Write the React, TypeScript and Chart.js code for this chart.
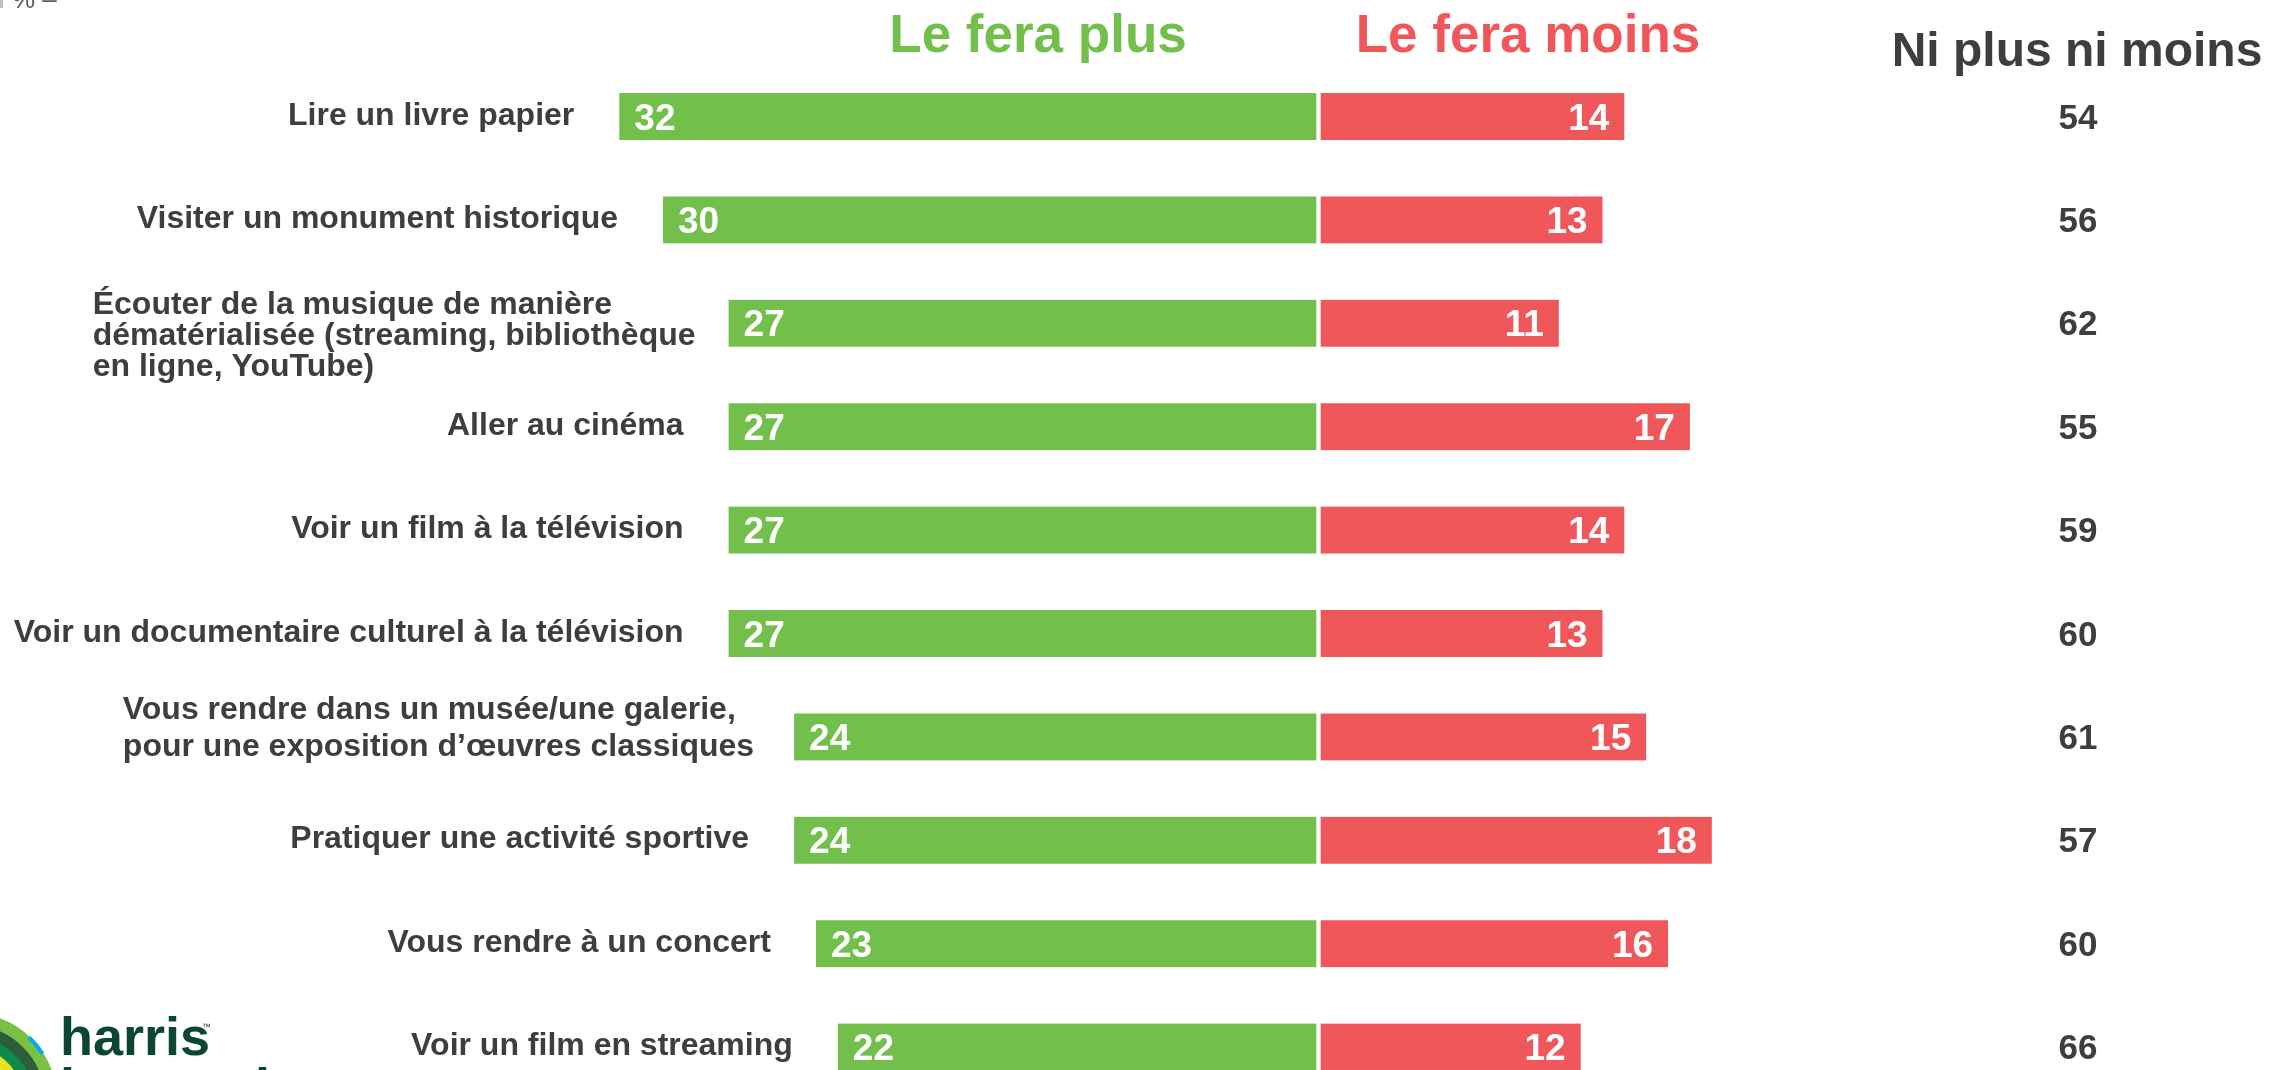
import React, { useEffect, useRef } from "react";
import { Chart, registerables } from "chart.js";

Chart.register(...registerables);

const CATEGORIES: string[][] = [
  ["Lire un livre papier"],
  ["Visiter un monument historique"],
  ["Écouter de la musique de manière", "dématérialisée (streaming, bibliothèque", "en ligne, YouTube)"],
  ["Aller au cinéma"],
  ["Voir un film à la télévision"],
  ["Voir un documentaire culturel à la télévision"],
  ["Vous rendre dans un musée/une galerie,", "pour une exposition d’œuvres classiques"],
  ["Pratiquer une activité sportive"],
  ["Vous rendre à un concert"],
  ["Voir un film en streaming"],
];
const PLUS: number[] = [32, 30, 27, 27, 27, 27, 24, 24, 23, 22];
const MOINS: number[] = [14, 13, 11, 17, 14, 13, 15, 18, 16, 12];
const NEUTRE: number[] = [54, 56, 62, 55, 59, 60, 61, 57, 60, 66];
const HEADER_PLUS = "Le fera plus";
const HEADER_MOINS = "Le fera moins";
const HEADER_NEUTRE = "Ni plus ni moins";

const GREEN = "#72BF4B";
const RED = "#F0575A";
const DARK = "#3E3E3E";
const FONT = "'Liberation Sans', Arial, sans-serif";

const W = 2290;
const H = 1110;

const overlayPlugin = {
  id: "overlay",
  afterDatasetsDraw(chart: any) {
    const ctx = chart.ctx as CanvasRenderingContext2D;
    const xs = chart.scales.x;
    const ys = chart.scales.y;
    ctx.save();

    // headers
    ctx.textAlign = "center";
    ctx.textBaseline = "alphabetic";
    ctx.font = `bold 53px ${FONT}`;
    ctx.fillStyle = GREEN;
    ctx.fillText(HEADER_PLUS, 1038, 52);
    ctx.fillStyle = RED;
    ctx.fillText(HEADER_MOINS, 1528, 52);
    ctx.font = `bold 48px ${FONT}`;
    ctx.fillStyle = DARK;
    ctx.fillText(HEADER_NEUTRE, 2077, 66);

    // top-left fragment
    ctx.textAlign = "left";
    ctx.font = `26px ${FONT}`;
    ctx.fillStyle = "#595959";
    ctx.fillText("% –", 12, 8);
    ctx.fillStyle = "#BFBFBF";
    ctx.fillRect(0, 0, 3, 8);

    for (let i = 0; i < CATEGORIES.length; i++) {
      const yc = ys.getPixelForValue(i);
      const x0 = xs.getPixelForValue(-PLUS[i]);
      const x1 = xs.getPixelForValue(MOINS[i]);

      // values in bars
      ctx.font = `bold 37px ${FONT}`;
      ctx.fillStyle = "#FFFFFF";
      ctx.textAlign = "left";
      ctx.fillText(String(PLUS[i]), x0 + 15, yc + 13);
      ctx.textAlign = "right";
      ctx.fillText(String(MOINS[i]), x1 - 15, yc + 13);

      // neutral values
      ctx.font = `bold 35px ${FONT}`;
      ctx.fillStyle = DARK;
      ctx.textAlign = "center";
      ctx.fillText(String(NEUTRE[i]), 2078, yc + 12);

      // category labels
      ctx.font = `bold 32px ${FONT}`;
      const lines = CATEGORIES[i];
      const widths = lines.map((l) => ctx.measureText(l).width);
      const maxW = Math.max(...widths);
      const gap = lines.length > 2 ? 33 : lines.length > 1 ? 40 : 45;
      const left = x0 - gap - maxW;
      const lh = lines.length > 2 ? 31 : 37;
      const shift = lines.length > 2 ? 14 : lines.length > 1 ? -7 : 0;
      const startY = yc - ((lines.length - 1) * lh) / 2 + shift;
      ctx.textAlign = "left";
      for (let k = 0; k < lines.length; k++) {
        const lx = lines.length > 1 ? left : x0 - gap - widths[k];
        ctx.fillText(lines[k], lx, startY + k * lh + 8);
      }
    }

    // logo
    const cx = -30;
    const cy = 1100;
    const arcs: [number, number, string][] = [
      [81, 12, "#7AC143"],
      [69, 12, "#2D5E3A"],
      [58, 11, "#0E8A4A"],
      [48, 10, "#E6E21E"],
    ];
    for (const [r, w, c] of arcs) {
      ctx.beginPath();
      ctx.lineWidth = w;
      ctx.strokeStyle = c;
      ctx.arc(cx, cy, r, Math.PI * 1.5, Math.PI * 2.1);
      ctx.stroke();
    }
    ctx.beginPath();
    ctx.lineWidth = 4;
    ctx.strokeStyle = "#00AEEF";
    ctx.arc(cx, cy, 86, Math.PI * 1.74, Math.PI * 1.82);
    ctx.stroke();

    ctx.fillStyle = "#0B4632";
    ctx.font = `bold 54px ${FONT}`;
    ctx.textAlign = "left";
    ctx.fillText("harris", 60, 1055);
    ctx.font = `9px ${FONT}`;
    ctx.fillText("™", 202, 1030);
    ctx.font = `bold 54px ${FONT}`;
    ctx.fillText("interactive", 60, 1106);

    ctx.restore();
  },
};

export default function App() {
  const ref = useRef<HTMLCanvasElement | null>(null);
  useEffect(() => {
    if (!ref.current) return;
    const chart = new Chart(ref.current, {
      type: "bar",
      data: {
        labels: CATEGORIES.map((c) => c.join(" ")),
        datasets: [
          {
            label: HEADER_PLUS,
            data: PLUS.map((v) => -v),
            backgroundColor: GREEN,
            borderColor: "#FFFFFF",
            borderWidth: { top: 0, bottom: 0, left: 0, right: 2.5 },
            borderSkipped: false,
            barThickness: 47,
          },
          {
            label: HEADER_MOINS,
            data: MOINS,
            backgroundColor: RED,
            borderColor: "#FFFFFF",
            borderWidth: { top: 0, bottom: 0, left: 2.5, right: 0 },
            borderSkipped: false,
            barThickness: 47,
          },
        ],
      },
      options: {
        indexAxis: "y",
        responsive: false,
        animation: false,
        layout: { padding: { left: 444.5, right: 97.5, top: 64.8, bottom: 11.2 } },
        scales: {
          x: { stacked: true, min: -40, max: 40, display: false },
          y: { stacked: true, display: false },
        },
        plugins: { legend: { display: false }, tooltip: { enabled: false } },
      },
      plugins: [overlayPlugin],
    } as any);
    return () => chart.destroy();
  }, []);
  return (
    <div
      style={{
        position: "fixed",
        left: 0,
        top: 0,
        width: 2290,
        height: 1070,
        overflow: "hidden",
        background: "#FFFFFF",
      }}
    >
      <canvas ref={ref} width={W} height={H} style={{ width: W, height: H, display: "block" }} />
    </div>
  );
}
